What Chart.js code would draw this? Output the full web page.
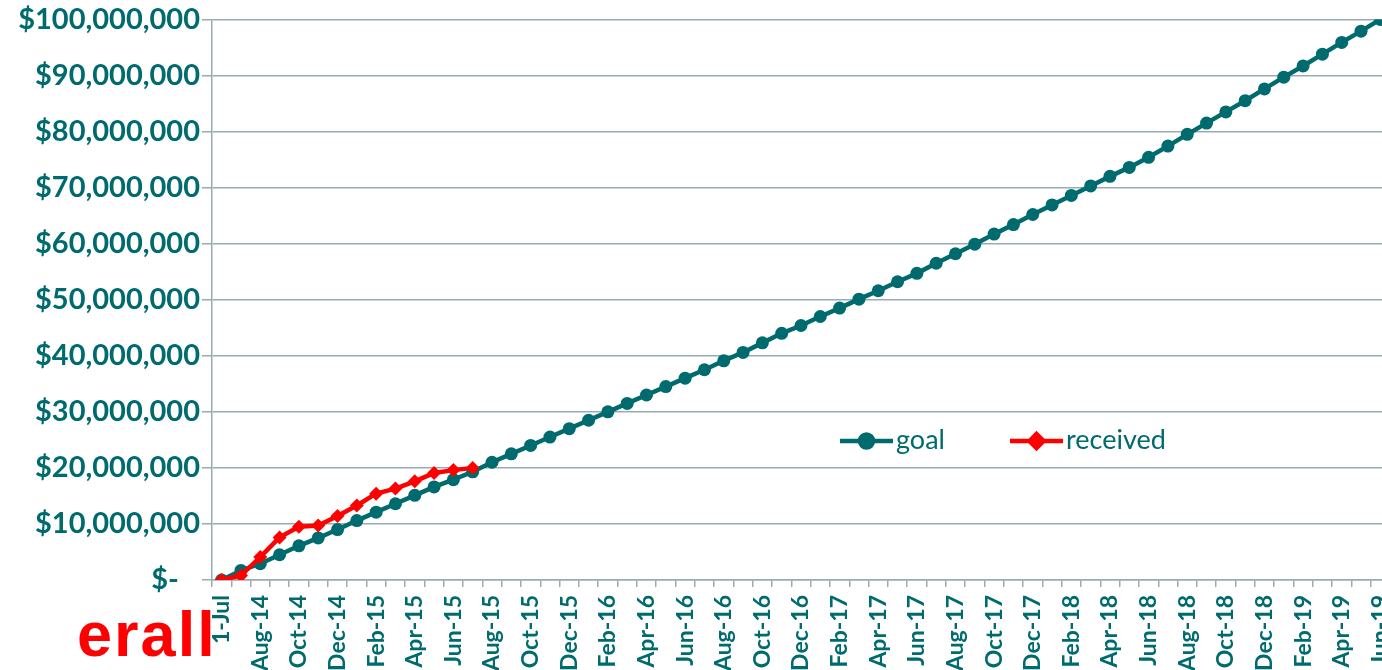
<!DOCTYPE html>
<html>
<head>
<meta charset="utf-8">
<script src="https://cdn.jsdelivr.net/npm/chart.js@4.4.1/dist/chart.umd.min.js"></script>
<style>
  html, body { margin: 0; padding: 0; background: #fff; overflow: hidden; }
  #wrap { position: absolute; left: 0; top: 0; width: 1416px; height: 670px; }
  #title { position: absolute; left: 79px; top: 598px; width: 170px; height: 72px; overflow: hidden; z-index: 2; }
  #title span { position: relative; left: -90px; font: bold 63px "Liberation Sans", Arial, sans-serif; letter-spacing: 2px; color: #ff0000; white-space: nowrap; }
</style>
</head>
<body>
<div id="wrap"><canvas id="chart" width="1416" height="670"></canvas></div>
<div id="title"><span>Overall</span></div>
<script>
// months from the 1-Jul start point up to Jun-19
const months = ['1-Jul',
    'Jul-14', 'Aug-14', 'Sep-14', 'Oct-14', 'Nov-14', 'Dec-14', 'Jan-15', 'Feb-15', 'Mar-15', 'Apr-15', 'May-15', 'Jun-15',
    'Jul-15', 'Aug-15', 'Sep-15', 'Oct-15', 'Nov-15', 'Dec-15', 'Jan-16', 'Feb-16', 'Mar-16', 'Apr-16', 'May-16', 'Jun-16',
    'Jul-16', 'Aug-16', 'Sep-16', 'Oct-16', 'Nov-16', 'Dec-16', 'Jan-17', 'Feb-17', 'Mar-17', 'Apr-17', 'May-17', 'Jun-17',
    'Jul-17', 'Aug-17', 'Sep-17', 'Oct-17', 'Nov-17', 'Dec-17', 'Jan-18', 'Feb-18', 'Mar-18', 'Apr-18', 'May-18', 'Jun-18',
    'Jul-18', 'Aug-18', 'Sep-18', 'Oct-18', 'Nov-18', 'Dec-18', 'Jan-19', 'Feb-19', 'Mar-19', 'Apr-19', 'May-19', 'Jun-19'];

// cumulative dollars
const goal = [0,
    1700000, 2900000, 4500000, 6100000, 7500000, 9000000, 10600000, 12100000, 13600000, 15100000, 16600000, 17900000,
    19300000, 21000000, 22500000, 24000000, 25500000, 27000000, 28500000, 30000000, 31500000, 33000000, 34500000, 36000000,
    37500000, 39100000, 40600000, 42300000, 44000000, 45400000, 47000000, 48500000, 50100000, 51600000, 53200000, 54700000,
    56500000, 58200000, 59900000, 61700000, 63400000, 65200000, 66900000, 68600000, 70300000, 72000000, 73600000, 75400000,
    77400000, 79500000, 81500000, 83500000, 85500000, 87600000, 89700000, 91700000, 93800000, 95900000, 97900000, 100000000];

const received = [0, 800000, 4100000, 7600000, 9500000, 9700000, 11400000, 13300000, 15400000, 16300000, 17600000, 19100000, 19600000, 20000000];

const yTicks = [0, 10000000, 20000000, 30000000, 40000000, 50000000, 60000000, 70000000, 80000000, 90000000, 100000000];

const TEAL = '#006B6E';
const RED = '#FF0000';
const GRID = '#9AABAF';

// line + marker legend drawn inside the plot, like the spreadsheet one
const insideLegend = {
    id: 'insideLegend',
    afterDatasetsDraw(chart) {
        const ctx = chart.ctx;
        const y = 441;
        const items = [
            { x: 840, ds: chart.data.datasets[0] },
            { x: 1010, ds: chart.data.datasets[1] }
        ];
        ctx.save();
        ctx.font = '27px Lato';
        ctx.textBaseline = 'middle';
        items.forEach(it => {
            const ds = it.ds;
            ctx.strokeStyle = ds.borderColor;
            ctx.lineWidth = 4.5;
            ctx.beginPath();
            ctx.moveTo(it.x, y);
            ctx.lineTo(it.x + 53, y);
            ctx.stroke();
            Chart.helpers.drawPoint(ctx, {
                pointStyle: ds.pointStyle, radius: ds.pointRadius, borderWidth: 1, rotation: 0
            }, it.x + 26.5, y);
            ctx.fillStyle = ds.borderColor;
            ctx.fill();
            ctx.fillStyle = TEAL;
            ctx.fillText(ds.label, it.x + 56, y - 1);
        });
        ctx.restore();
    }
};

new Chart(document.getElementById('chart'), {
    type: 'line',
    data: {
        labels: months,
        datasets: [
            {
                label: 'goal',
                data: goal,
                borderColor: TEAL,
                backgroundColor: TEAL,
                borderWidth: 4.5,
                pointStyle: 'circle',
                pointRadius: 6.5,
                pointBorderWidth: 0,
                tension: 0,
                order: 1
            },
            {
                label: 'received',
                data: received,
                borderColor: RED,
                backgroundColor: RED,
                borderWidth: 4.5,
                pointStyle: 'rectRot',
                pointRadius: 7,
                pointBorderWidth: 0,
                tension: 0,
                order: 0
            }
        ]
    },
    options: {
        responsive: false,
        animation: false,
        layout: { padding: { top: -4, right: 0, bottom: 0, left: 0 } },
        plugins: {
            legend: { display: false },
            tooltip: { enabled: false }
        },
        scales: {
            x: {
                offset: true,
                grid: { drawOnChartArea: false, color: GRID, lineWidth: 1.5, tickLength: 7, offset: true },
                border: { color: GRID, width: 1.5 },
                ticks: {
                    autoSkip: false,
                    maxRotation: 90,
                    minRotation: 90,
                    padding: 8,
                    color: TEAL,
                    font: { family: 'Lato', weight: 'bold', size: 23 },
                    callback: (v, i) => (i % 2 === 0 ? months[i] : '')
                },
                afterFit: s => { s.height = 90; }
            },
            y: {
                min: 0,
                max: 100000000,
                afterBuildTicks: s => { s.ticks = yTicks.map(v => ({ value: v })); },
                grid: { color: GRID, lineWidth: 1.5, tickLength: 10 },
                border: { color: GRID, width: 1.5 },
                ticks: {
                    padding: 2,
                    color: TEAL,
                    font: { family: 'Lato', weight: 'bold', size: 29 },
                    callback: v => (v === 0 ? '$-   ' : '$' + v.toLocaleString('en-US'))
                },
                afterFit: s => { s.width = 212; }
            }
        }
    },
    plugins: [insideLegend]
});
</script>
</body>
</html>
